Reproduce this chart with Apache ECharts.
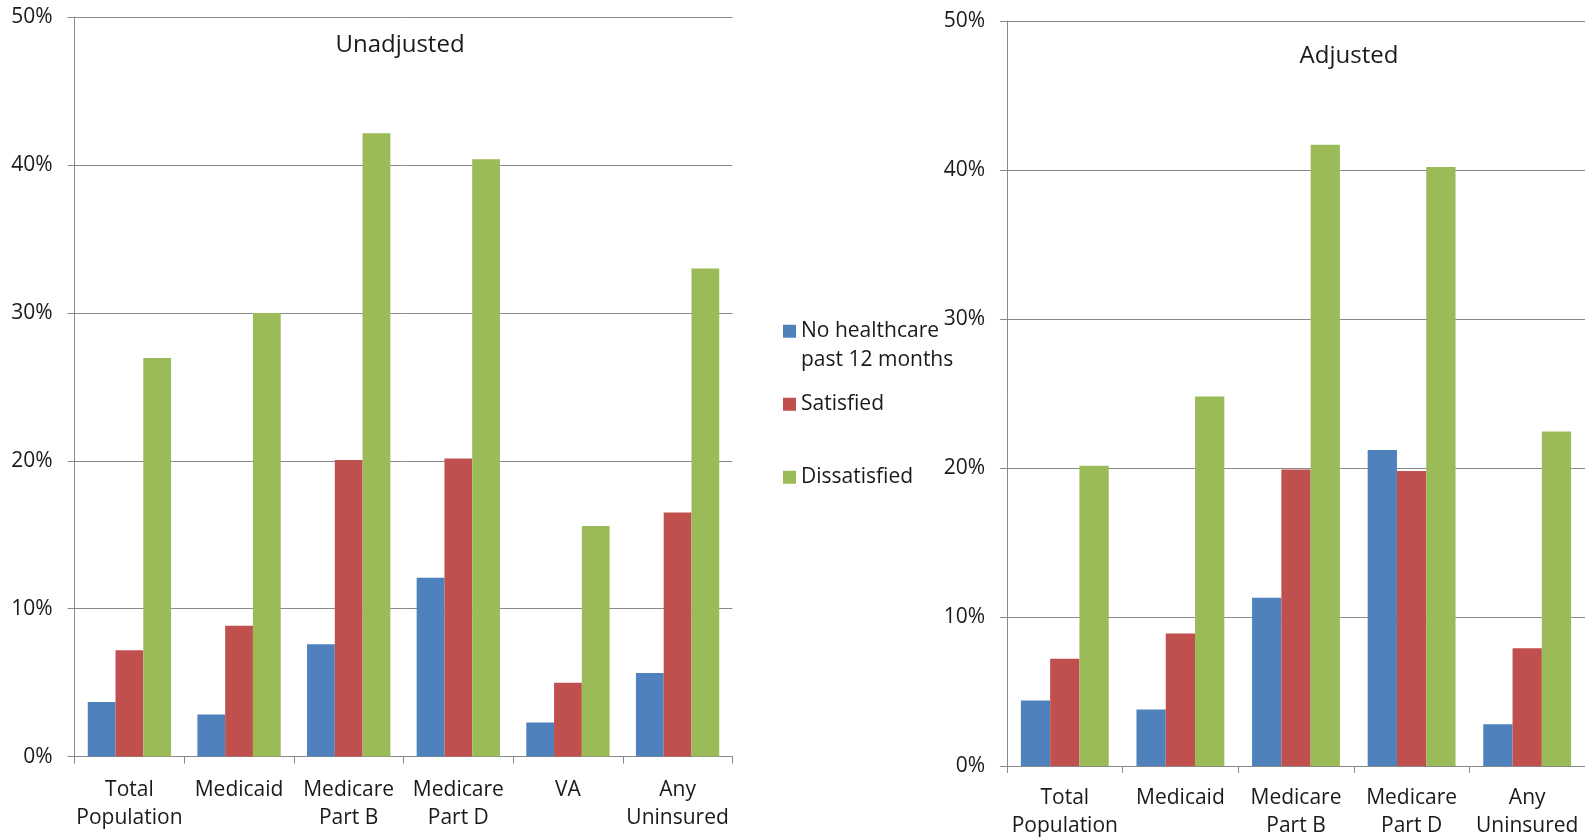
<!DOCTYPE html>
<html>
<head>
<meta charset="utf-8">
<script src="https://cdn.jsdelivr.net/npm/echarts@6/dist/echarts.min.js"></script>
<style>
  html, body { margin: 0; padding: 0; background: #ffffff; }
  #chart { width: 1585px; height: 840px; }
</style>
</head>
<body>
<div id="chart"></div>
<script>
// Categories for each panel
const unadjCategories = ['Total\nPopulation', 'Medicaid', 'Medicare\nPart B', 'Medicare\nPart D', 'VA', 'Any\nUninsured'];
const adjCategories = ['Total\nPopulation', 'Medicaid', 'Medicare\nPart B', 'Medicare\nPart D', 'Any\nUninsured'];

// Series names
const seriesNames = ['No healthcare\npast 12 months', 'Satisfied', 'Dissatisfied'];

// Unadjusted percentages
const unadjNoCare = [3.7, 2.85, 7.6, 12.1, 2.3, 5.65];
const unadjSatisfied = [7.2, 8.85, 20.05, 20.15, 5.0, 16.5];
const unadjDissatisfied = [26.95, 30.0, 42.15, 40.4, 15.6, 33.0];

// Adjusted percentages
const adjNoCare = [4.4, 3.8, 11.3, 21.2, 2.8];
const adjSatisfied = [7.2, 8.9, 19.9, 19.8, 7.9];
const adjDissatisfied = [20.15, 24.8, 41.7, 40.2, 22.45];

// Value axis ticks
const yMin = 0, yMax = 50, yStep = 10;

const colors = ['#4F81BD', '#C0504D', '#9BBB59'];
const FONT = 'Open Sans';
const axisGray = '#8a8a8a';
const textColor = '#1a1a1a';
const LEGEND_LINE = 28.5;

function xAxisFor(gridIndex, cats, margin) {
  return {
    type: 'category', gridIndex, data: cats,
    axisLine: { show: true, lineStyle: { color: axisGray, width: 1 } },
    axisTick: { show: true, length: 7, inside: false, lineStyle: { color: axisGray } },
    axisLabel: { interval: 0, margin, fontFamily: FONT, fontSize: 21, lineHeight: 28, color: textColor }
  };
}
function yAxisFor(gridIndex) {
  return {
    type: 'value', gridIndex, min: yMin, max: yMax, interval: yStep,
    axisLine: { show: true, lineStyle: { color: axisGray, width: 1 } },
    axisTick: { show: true, length: 7, lineStyle: { color: axisGray } },
    splitLine: { show: true, lineStyle: { color: axisGray, width: 1 } },
    axisLabel: { formatter: '{value}%', margin: 22, fontFamily: FONT, fontSize: 21, color: textColor }
  };
}
function barSeries(name, data, idx, colorIdx) {
  return {
    name, type: 'bar', xAxisIndex: idx, yAxisIndex: idx, data,
    barGap: '0%', barCategoryGap: '24%',
    itemStyle: { color: colors[colorIdx] },
    emphasis: { disabled: true }
  };
}
// One legend block per entry so each can be placed on its own;
// a leading blank line keeps the swatch level with the first text line.
function legendFor(name, top, leadBlank) {
  return {
    orient: 'vertical', left: 783, top, padding: 0, itemGap: 0,
    itemWidth: 13, itemHeight: 13, icon: 'rect',
    data: [name],
    formatter: leadBlank ? (n => ' \n' + n) : (n => n),
    textStyle: { fontFamily: FONT, fontSize: 21, lineHeight: LEGEND_LINE, color: textColor }
  };
}

const chart = echarts.init(document.getElementById('chart'), null, { renderer: 'canvas' });
chart.setOption({
  animation: false,
  color: colors,
  title: [
    { text: 'Unadjusted', left: 400, top: 30.5, textAlign: 'center', padding: 0,
      textStyle: { fontFamily: FONT, fontSize: 24, fontWeight: 'normal', lineHeight: 30, color: textColor } },
    { text: 'Adjusted', left: 1349, top: 41.5, textAlign: 'center', padding: 0,
      textStyle: { fontFamily: FONT, fontSize: 24, fontWeight: 'normal', lineHeight: 30, color: textColor } }
  ],
  legend: [
    legendFor(seriesNames[0], 288.5, true),
    legendFor(seriesNames[1], 390, false),
    legendFor(seriesNames[2], 463, false)
  ],
  grid: [
    { left: 74.6, right: 852.6, top: 17.2, bottom: 83.4, containLabel: false },
    // this panel runs a little past the right edge of the canvas
    { left: 1007, width: 586, top: 21, bottom: 72, containLabel: false }
  ],
  xAxis: [xAxisFor(0, unadjCategories, 19), xAxisFor(1, adjCategories, 18)],
  yAxis: [yAxisFor(0), yAxisFor(1)],
  series: [
    barSeries(seriesNames[0], unadjNoCare, 0, 0),
    barSeries(seriesNames[1], unadjSatisfied, 0, 1),
    barSeries(seriesNames[2], unadjDissatisfied, 0, 2),
    barSeries(seriesNames[0], adjNoCare, 1, 0),
    barSeries(seriesNames[1], adjSatisfied, 1, 1),
    barSeries(seriesNames[2], adjDissatisfied, 1, 2)
  ]
});
</script>
</body>
</html>
